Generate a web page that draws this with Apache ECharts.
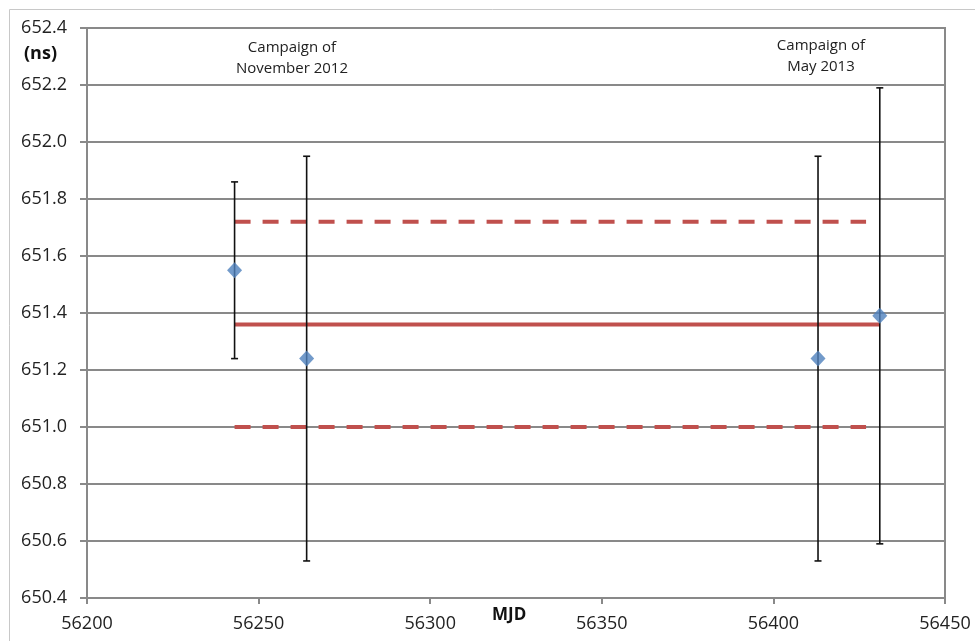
<!DOCTYPE html>
<html>
<head>
<meta charset="utf-8">
<script src="https://cdn.jsdelivr.net/npm/echarts@6/dist/echarts.min.js"></script>
<style>
  html, body { margin: 0; padding: 0; background: #ffffff; }
  #chart { width: 975px; height: 641px; }
</style>
</head>
<body>
<div id="chart"></div>
<script>
// Measurements per campaign epoch (MJD) with their 1-sigma uncertainties (ns)
const mjd = [56243, 56264, 56413, 56431];
const delayNs = [651.55, 651.24, 651.24, 651.39];
const sigmaNs = [0.31, 0.71, 0.71, 0.80];

// Weighted mean and its band
const meanSpan = [56243, 56431];
const meanNs = 651.36;
const bandSpan = [56243, 56427];
const bandUpperNs = 651.72;
const bandLowerNs = 651.00;

// Axis ranges and tick steps
const xRange = [56200, 56450];
const xStep = 50;
const yRange = [650.4, 652.4];
const yStep = 0.2;

const FONT = '"Open Sans", "Liberation Sans", sans-serif';
const GRID_GRAY = '#898989';
const RED = '#c0504d';
const BLUE = '#4f81bd';

const chart = echarts.init(document.getElementById('chart'), null, { renderer: 'canvas' });

const points = mjd.map((x, i) => [x, delayNs[i]]);
const bars = mjd.map((x, i) => [x, delayNs[i] - sigmaNs[i], delayNs[i] + sigmaNs[i]]);

chart.setOption({
  backgroundColor: '#ffffff',
  animation: false,
  grid: {
    left: 87, right: 30, top: 28, bottom: 43,
    show: true, borderColor: GRID_GRAY, borderWidth: 2, backgroundColor: 'transparent'
  },
  xAxis: {
    type: 'value',
    min: xRange[0], max: xRange[1], interval: xStep,
    axisLine: { show: true, lineStyle: { color: GRID_GRAY, width: 2 } },
    axisTick: { show: true, inside: false, length: 6, lineStyle: { color: GRID_GRAY, width: 2 } },
    axisLabel: { color: '#222', fontFamily: FONT, fontSize: 18, margin: 17,
                 formatter: v => String(v) },
    splitLine: { show: false }
  },
  yAxis: {
    type: 'value',
    min: yRange[0], max: yRange[1], interval: yStep,
    axisLine: { show: true, lineStyle: { color: GRID_GRAY, width: 2 } },
    axisTick: { show: true, inside: false, length: 7, lineStyle: { color: GRID_GRAY, width: 2 } },
    axisLabel: {
      color: '#222', fontFamily: FONT, fontSize: 18, margin: 20,
      formatter: v => v.toFixed(1)
    },
    splitLine: { show: true, lineStyle: { color: GRID_GRAY, width: 2 } }
  },
  graphic: [
    { type: 'rect', silent: true, z: -10,
      shape: { x: 9.5, y: 9.5, width: 1000, height: 700 },
      style: { fill: 'none', stroke: '#c8c8c8', lineWidth: 1 } },
    { type: 'text', left: 24, top: 45,
      style: { text: '(ns)', font: 'bold 18px ' + FONT, fill: '#111' } },
    { type: 'text', left: 492, top: 607,
      style: { text: 'MJD', font: 'bold 17px ' + FONT, fill: '#111' } },
    { type: 'text', x: 292, y: 37,
      style: { text: 'Campaign of\nNovember 2012', font: '15px ' + FONT, fill: '#222',
               align: 'center', lineHeight: 21 } },
    { type: 'text', x: 821, y: 35,
      style: { text: 'Campaign of\nMay 2013', font: '15px ' + FONT, fill: '#222',
               align: 'center', lineHeight: 21 } }
  ],
  series: [
    {
      name: 'upper band', type: 'line', symbol: 'none', z: 2,
      data: bandSpan.map(x => [x, bandUpperNs]),
      lineStyle: { color: RED, width: 4, type: [16, 12] }
    },
    {
      name: 'lower band', type: 'line', symbol: 'none', z: 2,
      data: bandSpan.map(x => [x, bandLowerNs]),
      lineStyle: { color: RED, width: 4, type: [16, 12] }
    },
    {
      name: 'mean', type: 'line', symbol: 'none', z: 2,
      data: meanSpan.map(x => [x, meanNs]),
      lineStyle: { color: RED, width: 4 }
    },
    {
      name: 'uncertainty', type: 'custom', z: 3,
      data: bars,
      renderItem: (params, api) => {
        const x = api.value(0);
        const lo = api.coord([x, api.value(1)]);
        const hi = api.coord([x, api.value(2)]);
        const cap = 3.5;
        const style = { stroke: '#111', lineWidth: 1.6 };
        return {
          type: 'group',
          children: [
            { type: 'line', shape: { x1: lo[0], y1: lo[1], x2: hi[0], y2: hi[1] }, style },
            { type: 'line', shape: { x1: lo[0] - cap, y1: lo[1], x2: lo[0] + cap, y2: lo[1] }, style },
            { type: 'line', shape: { x1: hi[0] - cap, y1: hi[1], x2: hi[0] + cap, y2: hi[1] }, style }
          ]
        };
      }
    },
    {
      name: 'delay', type: 'scatter', z: 4,
      data: points,
      symbol: 'diamond', symbolSize: [15, 16],
      itemStyle: { color: BLUE }
    }
  ]
});
</script>
</body>
</html>
